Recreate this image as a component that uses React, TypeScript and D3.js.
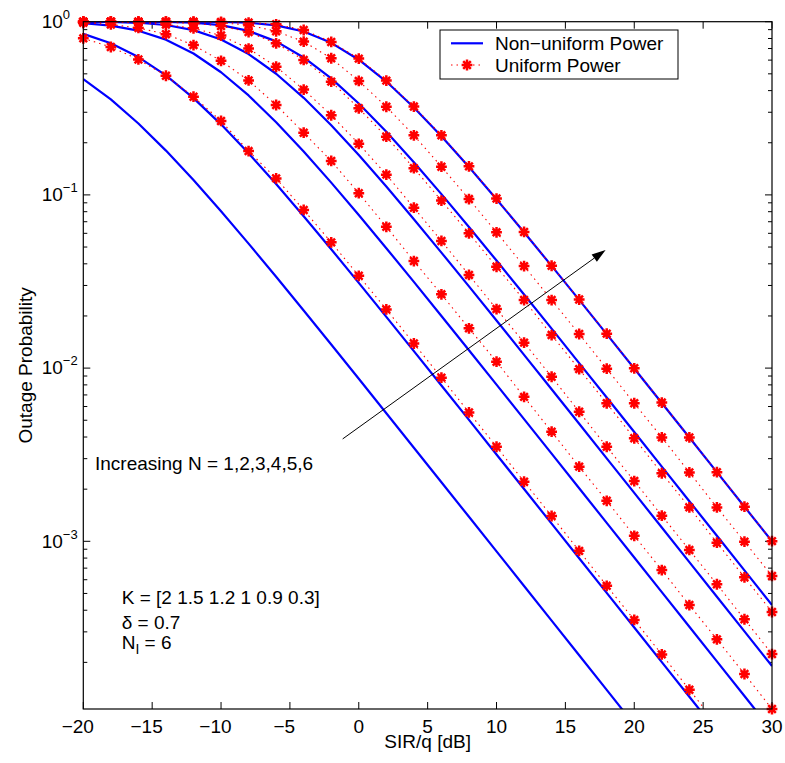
import React from "react";
import * as d3 from "d3";

// SIR/q in dB (every 2 dB)
const SIR_DB = [-20, -18, -16, -14, -12, -10, -8, -6, -4, -2, 0, 2, 4, 6, 8, 10, 12, 14, 16, 18, 20, 22, 24, 26, 28, 30];

// Non-uniform power (blue solid), N = 1..6
const NONUNIFORM_N1 = [0.4667, 0.3557, 0.2583, 0.1802, 0.1218, 0.08046, 0.05232, 0.03366, 0.02151, 0.01368, 0.008674, 0.005491, 0.003471, 0.002193, 0.001385, 8.742e-4, 5.518e-4, 3.482e-4, 2.197e-4, 1.387e-4, 8.75e-5, 5.52e-5, 3.48e-5, 2.2e-5, 1.39e-5, 8.75e-6];
const NONUNIFORM_N2 = [0.8509, 0.7508, 0.625, 0.4894, 0.362, 0.2555, 0.174, 0.1155, 0.07533, 0.04856, 0.03106, 0.01977, 0.01254, 0.00794, 0.005021, 0.003173, 0.002003, 0.001265, 7.985e-4, 5.039e-4, 3.179e-4, 2.006e-4, 1.266e-4, 7.988e-5, 5.04e-5, 3.18e-5];
const NONUNIFORM_N3 = [0.9801, 0.9491, 0.8874, 0.7875, 0.6554, 0.5107, 0.3752, 0.263, 0.1781, 0.1177, 0.07655, 0.04924, 0.03145, 0.02, 0.01268, 0.008027, 0.005075, 0.003206, 0.002024, 0.001278, 8.066e-4, 5.091e-4, 3.213e-4, 2.027e-4, 1.279e-4, 8.07e-5];
const NONUNIFORM_N4 = [0.9991, 0.9961, 0.9858, 0.957, 0.8945, 0.7894, 0.6504, 0.5007, 0.3636, 0.2526, 0.1698, 0.1117, 0.07238, 0.04645, 0.02963, 0.01883, 0.01193, 0.007548, 0.004771, 0.003014, 0.001903, 0.001201, 7.581e-4, 4.785e-4, 3.019e-4, 1.905e-4];
const NONUNIFORM_N5 = [1.0, 0.9999, 0.9994, 0.9968, 0.9863, 0.9547, 0.8848, 0.7696, 0.6218, 0.471, 0.3371, 0.2315, 0.1544, 0.101, 0.06523, 0.04177, 0.0266, 0.01689, 0.01069, 0.006764, 0.004274, 0.002699, 0.001704, 0.001076, 6.789e-4, 4.284e-4];
const NONUNIFORM_N6 = [1.0, 1.0, 1.0, 0.9999, 0.9996, 0.9972, 0.9866, 0.9528, 0.8774, 0.755, 0.6034, 0.4512, 0.3198, 0.2182, 0.1448, 0.09442, 0.06084, 0.0389, 0.02476, 0.0157, 0.009942, 0.006286, 0.003972, 0.002508, 0.001584, 9.995e-4];

// Uniform power (red dotted with * markers)
const UNIFORM_1 = [0.8017, 0.7145, 0.6053, 0.4875, 0.369, 0.2673, 0.1791, 0.1245, 0.08185, 0.05321, 0.03412, 0.02183, 0.01387, 0.00881, 0.005546, 0.003516, 0.002208, 0.0014, 8.81e-4, 5.534e-4, 3.516e-4, 2.223e-4, 1.39e-4, 8.77e-5, 5.534e-5, 3.491e-5];
const UNIFORM_2 = [0.9863, 0.9638, 0.9204, 0.8472, 0.7328, 0.5943, 0.4581, 0.3304, 0.2286, 0.157, 0.1023, 0.06546, 0.0415, 0.02667, 0.01698, 0.01089, 0.006823, 0.004295, 0.002698, 0.001714, 0.001076, 6.823e-4, 4.285e-4, 2.716e-4, 1.714e-4, 1.076e-4];
const UNIFORM_3 = [0.9977, 0.9954, 0.9863, 0.9638, 0.9162, 0.8318, 0.6998, 0.5495, 0.4055, 0.2884, 0.1972, 0.1309, 0.08433, 0.0542, 0.03451, 0.02193, 0.01403, 0.008913, 0.005598, 0.003516, 0.002228, 0.001406, 8.913e-4, 5.649e-4, 3.548e-4, 2.234e-4];
const UNIFORM_4 = [0.9995, 0.9991, 0.9977, 0.9931, 0.9795, 0.9441, 0.871, 0.7499, 0.6012, 0.4508, 0.3162, 0.2168, 0.1426, 0.09268, 0.05998, 0.03846, 0.02472, 0.01552, 0.009863, 0.006266, 0.003936, 0.002472, 0.00157, 9.817e-4, 6.194e-4, 3.908e-4];
const UNIFORM_5 = [1.0, 0.9998, 0.9998, 0.9993, 0.9966, 0.9863, 0.955, 0.881, 0.7674, 0.6152, 0.455, 0.3228, 0.2208, 0.1455, 0.09462, 0.06081, 0.03882, 0.02472, 0.01574, 0.009931, 0.006266, 0.003981, 0.0025, 0.00157, 9.954e-4, 6.31e-4];
const UNIFORM_6 = [1.0, 1.0, 1.0, 1.0, 0.9998, 0.9977, 0.9886, 0.9661, 0.8954, 0.7638, 0.6124, 0.4571, 0.3236, 0.2208, 0.1462, 0.09528, 0.06109, 0.03899, 0.02489, 0.01581, 0.009977, 0.006324, 0.003981, 0.002506, 0.001585, 0.001002];

const NONUNIFORM = [NONUNIFORM_N1, NONUNIFORM_N2, NONUNIFORM_N3, NONUNIFORM_N4, NONUNIFORM_N5, NONUNIFORM_N6];
const UNIFORM = [UNIFORM_1, UNIFORM_2, UNIFORM_3, UNIFORM_4, UNIFORM_5, UNIFORM_6];

const X_TICKS = [-20, -15, -10, -5, 0, 5, 10, 15, 20, 25, 30];
const Y_TICK_EXPONENTS = [0, -1, -2, -3];
const Y_MINOR_MULT = [2, 3, 4, 5, 6, 7, 8, 9];
const Y_MINOR_DECADES = [1e-4, 1e-3, 1e-2, 1e-1];
const X_DOMAIN = [-20, 30];
const Y_DOMAIN = [1.076e-4, 1];

const LEGEND_LABELS = ["Non\u2212uniform Power", "Uniform Power"];
const ARROW_FROM = [-1.17, 0.0039];
const ARROW_TO = [17.92, 0.0481];
const ANNOT_TEXT = "Increasing N = 1,2,3,4,5,6";
const PARAM_K = "K = [2 1.5 1.2 1 0.9 0.3]";
const PARAM_DELTA = "\u03b4 = 0.7";

const W = 785;
const H = 763;
const LEFT = 83.3;
const RIGHT = 772;
const TOP = 21.7;
const BOTTOM = 709;
const FONT = "'Liberation Sans', Arial, Helvetica, sans-serif";
const FS = 19;
const BLUE = "#0000ff";
const RED = "#ff0000";

function asteriskPath(r: number) {
  const d = r * 0.7071;
  return `M${-r},0H${r}M0,${-r}V${r}M${-d},${-d}L${d},${d}M${-d},${d}L${d},${-d}`;
}

export default function App() {
  const x = d3.scaleLinear().domain(X_DOMAIN).range([LEFT, RIGHT]);
  const y = d3.scaleLog().domain(Y_DOMAIN).range([BOTTOM, TOP]);

  const line = d3
    .line<number>()
    .x((_, i) => x(SIR_DB[i]))
    .y((d) => y(d));

  const star = asteriskPath(5.4);
  const tickLen = 7;
  const minorLen = 4;

  const minorTicks: number[] = [];
  Y_MINOR_DECADES.forEach((dec) =>
    Y_MINOR_MULT.forEach((m) => {
      const v = dec * m;
      if (v >= Y_DOMAIN[0] && v <= Y_DOMAIN[1]) minorTicks.push(v);
    })
  );

  const ax0 = x(ARROW_FROM[0]);
  const ay0 = y(ARROW_FROM[1]);
  const ax1 = x(ARROW_TO[0]);
  const ay1 = y(ARROW_TO[1]);
  const ang = Math.atan2(ay1 - ay0, ax1 - ax0);
  const headL = 14;
  const headW = 4.5;
  const bx = ax1 - headL * Math.cos(ang);
  const by = ay1 - headL * Math.sin(ang);
  const head = `M${ax1},${ay1}L${bx + headW * Math.sin(ang)},${by - headW * Math.cos(ang)}L${bx - headW * Math.sin(ang)},${by + headW * Math.cos(ang)}Z`;

  return (
    <div style={{ position: "absolute", left: 0, top: 0 }}>
      <svg width={W} height={H} style={{ display: "block", background: "#fff" }} fontFamily={FONT}>
        <defs>
          <clipPath id="plotclip">
            <rect x={LEFT} y={TOP} width={RIGHT - LEFT} height={BOTTOM - TOP} />
          </clipPath>
        </defs>
        <rect x={0} y={0} width={W} height={H} fill="#fff" />

        {/* ticks */}
        <g stroke="#000" strokeWidth={1}>
          {X_TICKS.map((t) => (
            <g key={"xt" + t}>
              <line x1={x(t)} x2={x(t)} y1={BOTTOM} y2={BOTTOM - tickLen} />
              <line x1={x(t)} x2={x(t)} y1={TOP} y2={TOP + tickLen} />
            </g>
          ))}
          {Y_TICK_EXPONENTS.map((e) => (
            <g key={"yt" + e}>
              <line x1={LEFT} x2={LEFT + tickLen} y1={y(Math.pow(10, e))} y2={y(Math.pow(10, e))} />
              <line x1={RIGHT} x2={RIGHT - tickLen} y1={y(Math.pow(10, e))} y2={y(Math.pow(10, e))} />
            </g>
          ))}
          {minorTicks.map((v, i) => (
            <g key={"ym" + i}>
              <line x1={LEFT} x2={LEFT + minorLen} y1={y(v)} y2={y(v)} />
              <line x1={RIGHT} x2={RIGHT - minorLen} y1={y(v)} y2={y(v)} />
            </g>
          ))}
        </g>

        {/* curves */}
        <g clipPath="url(#plotclip)" fill="none">
          {NONUNIFORM.map((s, i) => (
            <path key={"b" + i} d={line(s) || ""} stroke={BLUE} strokeWidth={2.2} strokeLinejoin="round" />
          ))}
          {UNIFORM.map((s, i) => (
            <path key={"r" + i} d={line(s) || ""} stroke={RED} strokeWidth={1.1} strokeDasharray="1.5 4" />
          ))}
        </g>
        <g stroke={RED} strokeWidth={2.5} fill="none">
          {UNIFORM.map((s, i) =>
            s.map((v, j) =>
              v >= Y_DOMAIN[0] * 0.999 ? (
                <path key={"m" + i + "-" + j} d={star} transform={`translate(${x(SIR_DB[j])},${y(v)})`} />
              ) : null
            )
          )}
        </g>

        {/* axes box */}
        <rect x={LEFT} y={TOP} width={RIGHT - LEFT} height={BOTTOM - TOP} fill="none" stroke="#000" strokeWidth={1.2} />

        {/* x tick labels */}
        <g fontSize={FS} fill="#000">
          {X_TICKS.map((t) => {
            const digits = String(Math.abs(t));
            const half = (digits.length * 0.556 * FS) / 2;
            return (
              <text key={"xl" + t} x={t < 0 ? x(t) + half : x(t)} y={732.5} textAnchor={t < 0 ? "end" : "middle"}>
                {(t < 0 ? "\u2212" : "") + digits}
              </text>
            );
          })}
        </g>

        {/* y tick labels */}
        <g fontSize={FS} fill="#000">
          {Y_TICK_EXPONENTS.map((e) => (
            <text key={"yl" + e} x={41.7} y={y(Math.pow(10, e)) + 6.3}>
              10
              <tspan dy={-9} fontSize={13}>
                {e < 0 ? "\u2212" + String(-e) : "0"}
              </tspan>
            </text>
          ))}
        </g>

        {/* axis labels */}
        <text x={(LEFT + RIGHT) / 2} y={747.5} fontSize={FS} textAnchor="middle">
          SIR/q [dB]
        </text>
        <text transform={`translate(31.5,${(TOP + BOTTOM) / 2}) rotate(-90)`} fontSize={FS} textAnchor="middle">
          Outage Probability
        </text>

        {/* annotations */}
        <line x1={ax0} y1={ay0} x2={bx} y2={by} stroke="#000" strokeWidth={1} />
        <path d={head} fill="#000" />
        <text x={95} y={470} fontSize={FS}>
          {ANNOT_TEXT}
        </text>
        <text x={121.7} y={604} fontSize={FS}>
          {PARAM_K}
        </text>
        <text x={121.7} y={629} fontSize={FS}>
          {PARAM_DELTA}
        </text>
        <text x={121.7} y={649.3} fontSize={FS}>
          N
          <tspan dy={5} fontSize={14}>
            I
          </tspan>
          <tspan dy={-5}> = 6</tspan>
        </text>

        {/* legend */}
        <g>
          <rect x={440} y={30} width={238} height={49} fill="#fff" stroke="#000" strokeWidth={1} />
          <line x1={451} x2={483} y1={43.3} y2={43.3} stroke={BLUE} strokeWidth={2.2} />
          <text x={495} y={49.5} fontSize={FS}>
            {LEGEND_LABELS[0]}
          </text>
          <line x1={451} x2={483} y1={65} y2={65} stroke={RED} strokeWidth={1.1} strokeDasharray="1.5 4" />
          <path d={star} transform="translate(467,65)" stroke={RED} strokeWidth={2.5} fill="none" />
          <text x={495} y={72.3} fontSize={FS}>
            {LEGEND_LABELS[1]}
          </text>
        </g>
      </svg>
    </div>
  );
}
